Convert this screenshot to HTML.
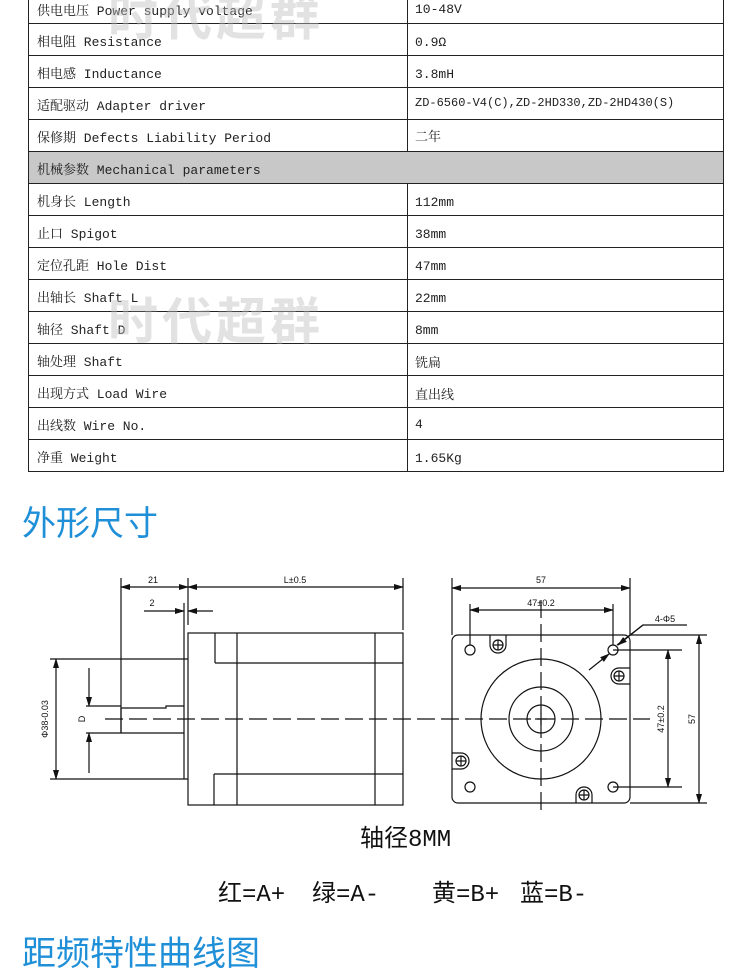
<!DOCTYPE html>
<html><head><meta charset="utf-8"><style>
body{margin:0;width:750px;height:960px;background:#fff;position:relative;overflow:hidden;font-family:"Liberation Mono","Noto Serif CJK SC",monospace;}
.r{position:absolute;left:28px;width:694px;height:31px;border:1.5px solid #222;border-top:none;font-size:13px;color:#222;}
.r span{position:absolute;left:8px;top:7px;white-space:nowrap;}
.r b{font-weight:normal;position:absolute;left:386px;top:11px;white-space:nowrap;}
.r i{position:absolute;left:378px;top:0;bottom:0;border-left:1.5px solid #222;}
.g{background:#c8c8c8;}
.wm{position:absolute;font-family:"Noto Sans CJK SC",sans-serif;font-weight:bold;font-size:50px;color:rgba(190,190,190,0.45);letter-spacing:4px;}
.h{position:absolute;left:22px;font-family:"Noto Sans CJK SC",sans-serif;font-size:34px;color:#1f8fd8;}
.c{position:absolute;font-family:"Liberation Mono","Noto Sans CJK SC",monospace;font-size:24px;color:#111;white-space:nowrap;}
</style></head><body>
<div class="r" style="top:-8px;border-top:none"><span style="top:8px">供电电压 Power supply voltage</span><i></i><b style="top:10px">10-48V</b></div>
<div class="r" style="top:24px;height:31px"><span>相电阻 Resistance</span><i></i><b>0.9Ω</b></div>
<div class="r" style="top:56px"><span>相电感 Inductance</span><i></i><b>3.8mH</b></div>
<div class="r" style="top:88px"><span>适配驱动 Adapter driver</span><i></i><b style="top:8px;font-size:12px">ZD-6560-V4(C),ZD-2HD330,ZD-2HD430(S)</b></div>
<div class="r" style="top:120px"><span>保修期 Defects Liability Period</span><i></i><b style="top:6px">二年</b></div>
<div class="r g" style="top:152px"><span>机械参数 Mechanical parameters</span></div>
<div class="r" style="top:184px"><span>机身长 Length</span><i></i><b>112mm</b></div>
<div class="r" style="top:216px"><span>止口 Spigot</span><i></i><b>38mm</b></div>
<div class="r" style="top:248px"><span>定位孔距 Hole Dist</span><i></i><b>47mm</b></div>
<div class="r" style="top:280px"><span>出轴长 Shaft L</span><i></i><b>22mm</b></div>
<div class="r" style="top:312px"><span>轴径 Shaft D</span><i></i><b>8mm</b></div>
<div class="r" style="top:344px"><span>轴处理 Shaft</span><i></i><b style="top:8px">铣扁</b></div>
<div class="r" style="top:376px"><span>出现方式 Load Wire</span><i></i><b style="top:8px">直出线</b></div>
<div class="r" style="top:408px"><span>出线数 Wire No.</span><i></i><b style="top:9px">4</b></div>
<div class="r" style="top:440px"><span>净重 Weight</span><i></i><b>1.65Kg</b></div>
<div class="wm" style="left:108px;top:-22px">时代超群</div>
<div class="wm" style="left:108px;top:282px">时代超群</div>
<div class="h" style="top:496px">外形尺寸</div>
<div class="h" style="top:926px">距频特性曲线图</div>

<svg style="position:absolute;left:0;top:0" width="750" height="960" font-family="Liberation Sans,sans-serif" font-size="9" fill="none" stroke="#111" stroke-width="1.2">
<defs><marker id="a" markerWidth="10" markerHeight="6" refX="9" refY="3" orient="auto-start-reverse" markerUnits="userSpaceOnUse"><path d="M0,0L10,3L0,6z" fill="#111" stroke="none"/></marker></defs>
<rect x="188" y="633" width="215" height="172"/>
<line x1="215" y1="633" x2="215" y2="663"/><line x1="215" y1="663" x2="403" y2="663"/>
<line x1="237" y1="633" x2="237" y2="805"/><line x1="375" y1="633" x2="375" y2="805"/>
<line x1="214" y1="774" x2="403" y2="774"/><line x1="214" y1="774" x2="214" y2="805"/>
<line x1="184" y1="603" x2="184" y2="779"/>
<line x1="50" y1="659" x2="188" y2="659"/><line x1="50" y1="779" x2="188" y2="779"/>
<path d="M121,708H166V706H184M121,733H184M121,708V733"/>
<line x1="105" y1="719" x2="650" y2="719" stroke-dasharray="18,6"/>
<line x1="121" y1="578" x2="121" y2="733"/><line x1="188" y1="578" x2="188" y2="625"/><line x1="403" y1="578" x2="403" y2="630"/>
<line x1="121" y1="587" x2="188" y2="587" marker-start="url(#a)" marker-end="url(#a)"/>
<line x1="188" y1="587" x2="403" y2="587" marker-start="url(#a)" marker-end="url(#a)"/>
<line x1="144" y1="611" x2="184" y2="611" marker-end="url(#a)"/><line x1="213" y1="611" x2="188" y2="611" marker-end="url(#a)"/>
<line x1="56" y1="659" x2="56" y2="779" marker-start="url(#a)" marker-end="url(#a)"/>
<line x1="89" y1="668" x2="89" y2="706" marker-end="url(#a)"/><line x1="89" y1="773" x2="89" y2="733" marker-end="url(#a)"/>
<line x1="86" y1="706" x2="121" y2="706"/><line x1="86" y1="733" x2="121" y2="733"/>
<g fill="#111" stroke="none">
<text x="153" y="583" text-anchor="middle">21</text>
<text x="295" y="583" text-anchor="middle">L±0.5</text>
<text x="152" y="606" text-anchor="middle">2</text>
<text transform="translate(48,719) rotate(-90)" text-anchor="middle">Φ38-0.03</text>
<text transform="translate(85,719) rotate(-90)" text-anchor="middle">D</text>
</g>
<rect x="452" y="635" width="178" height="168" rx="6"/>
<circle cx="541" cy="719" r="60"/><circle cx="541" cy="719" r="32"/><circle cx="541" cy="719" r="14"/>
<line x1="535" y1="719" x2="547" y2="719"/><line x1="541" y1="713" x2="541" y2="725"/>
<line x1="541" y1="600" x2="541" y2="815" stroke-dasharray="18,6"/>
<g><circle cx="470" cy="650" r="5"/><circle cx="613" cy="650" r="5"/><circle cx="470" cy="787" r="5"/><circle cx="613" cy="787" r="5"/></g>
<g>
<circle cx="498" cy="645" r="5"/><path d="M493,645h10M498,640v10"/><path d="M490,635v10a8,8 0 0 0 16,0v-10"/>
<circle cx="619" cy="676" r="5"/><path d="M614,676h10M619,671v10"/><path d="M630,668h-11a8,8 0 0 0 0,16h11"/>
<circle cx="461" cy="761" r="5"/><path d="M456,761h10M461,756v10"/><path d="M452,753h9a8,8 0 0 1 0,16h-9"/>
<circle cx="584" cy="795" r="5"/><path d="M579,795h10M584,790v10"/><path d="M576,803v-8a8,8 0 0 1 16,0v8"/>
</g>
<line x1="452" y1="578" x2="452" y2="635"/><line x1="630" y1="578" x2="630" y2="635"/>
<line x1="452" y1="588" x2="630" y2="588" marker-start="url(#a)" marker-end="url(#a)"/>
<line x1="470" y1="604" x2="470" y2="645"/><line x1="613" y1="604" x2="613" y2="645"/>
<line x1="470" y1="610" x2="613" y2="610" marker-start="url(#a)" marker-end="url(#a)"/>
<line x1="589" y1="670" x2="609" y2="654" marker-end="url(#a)"/><path d="M617,645L643,625H687"/>
<line x1="643" y1="625" x2="618" y2="645" marker-end="url(#a)"/>
<line x1="613" y1="650" x2="682" y2="650"/><line x1="613" y1="787" x2="682" y2="787"/>
<line x1="668" y1="650" x2="668" y2="787" marker-start="url(#a)" marker-end="url(#a)"/>
<line x1="630" y1="635" x2="707" y2="635"/><line x1="630" y1="803" x2="707" y2="803"/>
<line x1="699" y1="635" x2="699" y2="803" marker-start="url(#a)" marker-end="url(#a)"/>
<g fill="#111" stroke="none">
<text x="541" y="583" text-anchor="middle">57</text>
<text x="541" y="606" text-anchor="middle">47±0.2</text>
<text x="665" y="622" text-anchor="middle">4-Φ5</text>
<text transform="translate(664,719) rotate(-90)" text-anchor="middle">47±0.2</text>
<text transform="translate(695,719) rotate(-90)" text-anchor="middle">57</text>
</g>
</svg>
<div class="c" style="left:360px;top:818px">轴径8MM</div>
<div class="c" style="left:218px;top:873px">红=A+</div>
<div class="c" style="left:312px;top:873px">绿=A-</div>
<div class="c" style="left:432px;top:873px">黄=B+</div>
<div class="c" style="left:520px;top:873px">蓝=B-</div>
</body></html>
